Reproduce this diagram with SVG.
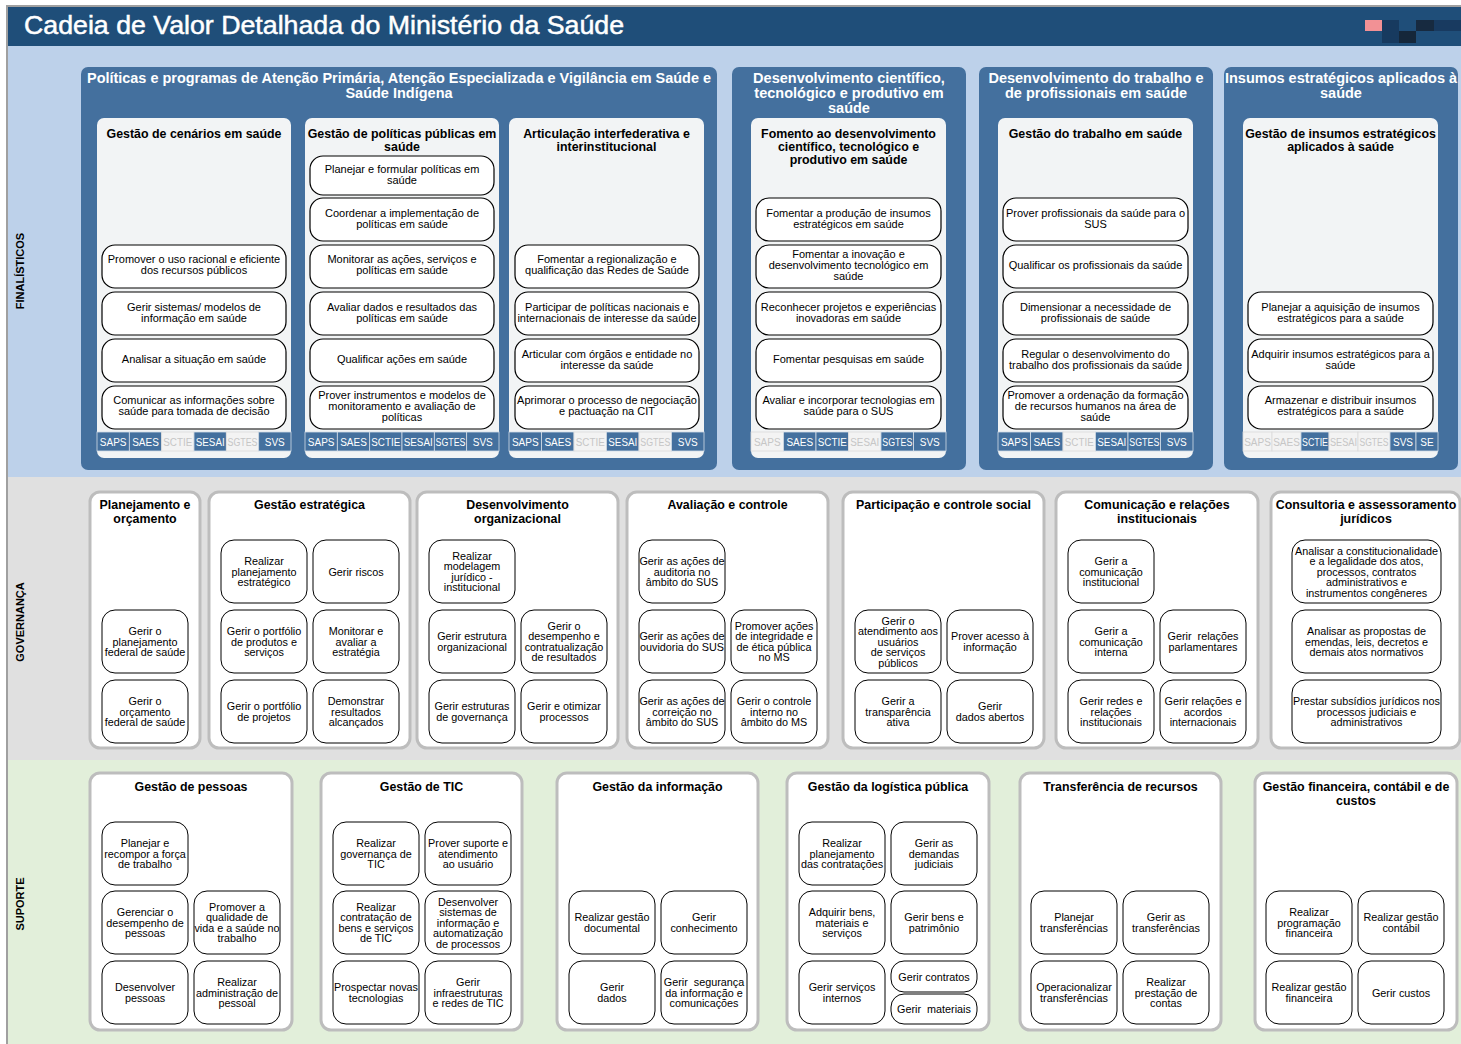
<svg xmlns="http://www.w3.org/2000/svg" width="1461" height="1044" viewBox="0 0 1461 1044">
<style>
text{font-family:"Liberation Sans",Arial,sans-serif}
.outer{fill:#44709E}
.inner{fill:#F2F4F5}
.fp{fill:#fff;stroke:#000;stroke-width:1.2}
.grp{fill:#fff;stroke:#BDBDBD;stroke-width:3}
.gp{fill:#fff;stroke:#000;stroke-width:1}
.o{font-size:14.5px;font-weight:bold;fill:#fff;text-anchor:middle}
.h{font-size:12.4px;font-weight:bold;fill:#000;text-anchor:middle}
.p{font-size:11px;fill:#000;text-anchor:middle}
.q{font-size:10.8px;fill:#000;text-anchor:middle}
.ton{fill:#44709E;stroke:#D3DCE6;stroke-width:0.8}
.toff{fill:#F3F3F3;stroke:#DADADA;stroke-width:0.8}
.tt{font-size:10px;text-anchor:middle}
.tw{fill:#fff}
.tg{fill:#C6C6C6}
.side{font-size:11px;font-weight:bold;fill:#000;text-anchor:middle}
</style>
<rect x="0" y="0" width="1461" height="1044" fill="#fff"/>
<g id="backgrounds">
<rect x="8" y="46" width="1453" height="431" fill="#BDD1EA"/>
<rect x="8" y="477" width="1453" height="283" fill="#E0E0E0"/>
<rect x="8" y="760" width="1453" height="284" fill="#E2EFDA"/>
<rect x="6" y="5" width="1455" height="2" fill="#A0A0A0"/>
<rect x="6" y="5" width="2" height="1039" fill="#A0A0A0"/>
</g>
<g id="title">
<rect x="8" y="7" width="1453" height="39" fill="#1F4E79"/>
<text x="24" y="34" font-size="26.5" fill="#fff" stroke="#fff" stroke-width="0.5" textLength="600" lengthAdjust="spacingAndGlyphs">Cadeia de Valor Detalhada do Ministério da Saúde</text>
<rect x="1365" y="20" width="17" height="11" fill="#F29195"/>
<rect x="1382" y="20" width="17" height="23" fill="#173A5F"/>
<rect x="1416" y="20" width="18" height="11" fill="#172A40"/>
<rect x="1434" y="20" width="27" height="11" fill="#183A60"/>
<rect x="1399" y="31" width="17" height="12" fill="#15273A"/>
</g>
<g id="side-labels">
<text class="side" transform="translate(24,271) rotate(-90)">FINALÍSTICOS</text>
<text class="side" transform="translate(24,622) rotate(-90)">GOVERNANÇA</text>
<text class="side" transform="translate(24,904) rotate(-90)">SUPORTE</text>
</g>
<g id="connectors"/>

<!-- FINALISTICOS -->
<g id="fin-politicas">
<rect class="outer" x="81" y="67" width="636" height="403" rx="7"/>
<text class="o" x="399" y="83" textLength="624" lengthAdjust="spacingAndGlyphs">Políticas e programas de Atenção Primária, Atenção Especializada e Vigilância em Saúde e</text>
<text class="o" x="399" y="98">Saúde Indígena</text>
</g>
<g id="fin-desenv-cient">
<rect class="outer" x="732" y="67" width="234" height="403" rx="7"/>
<text class="o"><tspan x="849" y="83">Desenvolvimento científico,</tspan><tspan x="849" y="98">tecnológico e produtivo em</tspan><tspan x="849" y="113">saúde</tspan></text>
</g>
<g id="fin-desenv-trab">
<rect class="outer" x="979" y="67" width="234" height="403" rx="7"/>
<text class="o"><tspan x="1096" y="83">Desenvolvimento do trabalho e</tspan><tspan x="1096" y="98">de profissionais em saúde</tspan></text>
</g>
<g id="fin-insumos">
<rect class="outer" x="1224" y="67" width="234" height="403" rx="7"/>
<text class="o"><tspan x="1341" y="83">Insumos estratégicos aplicados à</tspan><tspan x="1341" y="98">saúde</tspan></text>
</g>

<g id="gestao-cenarios">
<rect class="inner" x="97" y="118" width="194" height="340" rx="7"/>
<text class="h" x="194" y="137.5">Gestão de cenários em saúde</text>
<rect class="fp" x="102" y="245" width="184" height="43" rx="13"/>
<text class="p"><tspan x="194" y="263">Promover o uso racional e eficiente</tspan><tspan x="194" y="274">dos recursos públicos</tspan></text>
<rect class="fp" x="102" y="292" width="184" height="43" rx="13"/>
<text class="p"><tspan x="194" y="311">Gerir sistemas/ modelos de</tspan><tspan x="194" y="322">informação em saúde</tspan></text>
<rect class="fp" x="102" y="339" width="184" height="43" rx="13"/>
<text class="p" x="194" y="363">Analisar a situação em saúde</text>
<rect class="fp" x="102" y="386" width="184" height="43" rx="13"/>
<text class="p"><tspan x="194" y="404">Comunicar as informações sobre</tspan><tspan x="194" y="415">saúde para tomada de decisão</tspan></text>
<rect class="ton" x="97" y="432" width="32.33" height="19"/><rect class="ton" x="129.33" y="432" width="32.33" height="19"/><rect class="toff" x="161.67" y="432" width="32.33" height="19"/><rect class="ton" x="194" y="432" width="32.33" height="19"/><rect class="toff" x="226.33" y="432" width="32.33" height="19"/><rect class="ton" x="258.67" y="432" width="32.33" height="19"/>
<text class="tt tw" x="113.2" y="445.5">SAPS</text><text class="tt tw" x="145.5" y="445.5">SAES</text><text class="tt tg" x="177.8" y="445.5" textLength="29" lengthAdjust="spacingAndGlyphs">SCTIE</text><text class="tt tw" x="210.2" y="445.5" textLength="29" lengthAdjust="spacingAndGlyphs">SESAI</text><text class="tt tg" x="242.5" y="445.5" textLength="30" lengthAdjust="spacingAndGlyphs">SGTES</text><text class="tt tw" x="274.8" y="445.5">SVS</text>
</g>

<g id="gestao-politicas">
<rect class="inner" x="305" y="118" width="194" height="340" rx="7"/>
<text class="h"><tspan x="402" y="137.5">Gestão de políticas públicas em</tspan><tspan x="402" y="150.5">saúde</tspan></text>
<rect class="fp" x="310" y="156" width="184" height="39" rx="13"/>
<text class="p"><tspan x="402" y="173">Planejar e formular políticas em</tspan><tspan x="402" y="184">saúde</tspan></text>
<rect class="fp" x="310" y="198" width="184" height="43" rx="13"/>
<text class="p"><tspan x="402" y="217">Coordenar a implementação de</tspan><tspan x="402" y="228">políticas em saúde</tspan></text>
<rect class="fp" x="310" y="245" width="184" height="43" rx="13"/>
<text class="p"><tspan x="402" y="263">Monitorar as ações, serviços e</tspan><tspan x="402" y="274">políticas em saúde</tspan></text>
<rect class="fp" x="310" y="292" width="184" height="43" rx="13"/>
<text class="p"><tspan x="402" y="311">Avaliar dados e resultados das</tspan><tspan x="402" y="322">políticas em saúde</tspan></text>
<rect class="fp" x="310" y="339" width="184" height="43" rx="13"/>
<text class="p" x="402" y="363">Qualificar ações em saúde</text>
<rect class="fp" x="310" y="386" width="184" height="43" rx="13"/>
<text class="p"><tspan x="402" y="399">Prover instrumentos e modelos de</tspan><tspan x="402" y="410">monitoramento e avaliação de</tspan><tspan x="402" y="421">políticas</tspan></text>
<rect class="ton" x="305" y="432" width="32.33" height="19"/><rect class="ton" x="337.33" y="432" width="32.33" height="19"/><rect class="ton" x="369.67" y="432" width="32.33" height="19"/><rect class="ton" x="402" y="432" width="32.33" height="19"/><rect class="ton" x="434.33" y="432" width="32.33" height="19"/><rect class="ton" x="466.67" y="432" width="32.33" height="19"/>
<text class="tt tw" x="321.2" y="445.5">SAPS</text><text class="tt tw" x="353.5" y="445.5">SAES</text><text class="tt tw" x="385.8" y="445.5" textLength="29" lengthAdjust="spacingAndGlyphs">SCTIE</text><text class="tt tw" x="418.2" y="445.5" textLength="29" lengthAdjust="spacingAndGlyphs">SESAI</text><text class="tt tw" x="450.5" y="445.5" textLength="30" lengthAdjust="spacingAndGlyphs">SGTES</text><text class="tt tw" x="482.8" y="445.5">SVS</text>
</g>

<g id="articulacao">
<rect class="inner" x="509" y="118" width="195" height="340" rx="7"/>
<text class="h"><tspan x="606.5" y="137.5">Articulação interfederativa e</tspan><tspan x="606.5" y="150.5">interinstitucional</tspan></text>
<rect class="fp" x="515" y="245" width="184" height="43" rx="13"/>
<text class="p"><tspan x="607" y="263">Fomentar a regionalização e</tspan><tspan x="607" y="274">qualificação das Redes de Saúde</tspan></text>
<rect class="fp" x="515" y="292" width="184" height="43" rx="13"/>
<text class="p"><tspan x="607" y="311">Participar de políticas nacionais e</tspan><tspan x="607" y="322">internacionais de interesse da saúde</tspan></text>
<rect class="fp" x="515" y="339" width="184" height="43" rx="13"/>
<text class="p"><tspan x="607" y="357.5">Articular com órgãos e entidade no</tspan><tspan x="607" y="368.5">interesse da saúde</tspan></text>
<rect class="fp" x="515" y="386" width="184" height="43" rx="13"/>
<text class="p"><tspan x="607" y="404">Aprimorar o processo de negociação</tspan><tspan x="607" y="415">e pactuação na CIT</tspan></text>
<rect class="ton" x="509" y="432" width="32.5" height="19"/><rect class="ton" x="541.5" y="432" width="32.5" height="19"/><rect class="toff" x="574" y="432" width="32.5" height="19"/><rect class="ton" x="606.5" y="432" width="32.5" height="19"/><rect class="toff" x="639" y="432" width="32.5" height="19"/><rect class="ton" x="671.5" y="432" width="32.5" height="19"/>
<text class="tt tw" x="525.3" y="445.5">SAPS</text><text class="tt tw" x="557.8" y="445.5">SAES</text><text class="tt tg" x="590.3" y="445.5" textLength="29" lengthAdjust="spacingAndGlyphs">SCTIE</text><text class="tt tw" x="622.8" y="445.5" textLength="29" lengthAdjust="spacingAndGlyphs">SESAI</text><text class="tt tg" x="655.3" y="445.5" textLength="30" lengthAdjust="spacingAndGlyphs">SGTES</text><text class="tt tw" x="687.8" y="445.5">SVS</text>
</g>

<g id="fomento">
<rect class="inner" x="751" y="118" width="195" height="340" rx="7"/>
<text class="h"><tspan x="848.5" y="137.5">Fomento ao desenvolvimento</tspan><tspan x="848.5" y="150.5">científico, tecnológico e</tspan><tspan x="848.5" y="163.5">produtivo em saúde</tspan></text>
<rect class="fp" x="756" y="198" width="185" height="43" rx="13"/>
<text class="p"><tspan x="848.5" y="217">Fomentar a produção de insumos</tspan><tspan x="848.5" y="228">estratégicos em saúde</tspan></text>
<rect class="fp" x="756" y="245" width="185" height="43" rx="13"/>
<text class="p"><tspan x="848.5" y="258">Fomentar a inovação e</tspan><tspan x="848.5" y="269">desenvolvimento tecnológico em</tspan><tspan x="848.5" y="280">saúde</tspan></text>
<rect class="fp" x="756" y="292" width="185" height="43" rx="13"/>
<text class="p"><tspan x="848.5" y="311">Reconhecer projetos e experiências</tspan><tspan x="848.5" y="322">inovadoras em saúde</tspan></text>
<rect class="fp" x="756" y="339" width="185" height="43" rx="13"/>
<text class="p" x="848.5" y="363">Fomentar pesquisas em saúde</text>
<rect class="fp" x="756" y="386" width="185" height="43" rx="13"/>
<text class="p"><tspan x="848.5" y="404">Avaliar e incorporar tecnologias em</tspan><tspan x="848.5" y="415">saúde para o SUS</tspan></text>
<rect class="toff" x="751" y="432" width="32.5" height="19"/><rect class="ton" x="783.5" y="432" width="32.5" height="19"/><rect class="ton" x="816" y="432" width="32.5" height="19"/><rect class="toff" x="848.5" y="432" width="32.5" height="19"/><rect class="ton" x="881" y="432" width="32.5" height="19"/><rect class="ton" x="913.5" y="432" width="32.5" height="19"/>
<text class="tt tg" x="767.3" y="445.5">SAPS</text><text class="tt tw" x="799.8" y="445.5">SAES</text><text class="tt tw" x="832.3" y="445.5" textLength="29" lengthAdjust="spacingAndGlyphs">SCTIE</text><text class="tt tg" x="864.8" y="445.5" textLength="29" lengthAdjust="spacingAndGlyphs">SESAI</text><text class="tt tw" x="897.3" y="445.5" textLength="30" lengthAdjust="spacingAndGlyphs">SGTES</text><text class="tt tw" x="929.8" y="445.5">SVS</text>
</g>

<g id="gestao-trabalho">
<rect class="inner" x="998" y="118" width="195" height="340" rx="7"/>
<text class="h" x="1095.5" y="137.5">Gestão do trabalho em saúde</text>
<rect class="fp" x="1003" y="198" width="185" height="43" rx="13"/>
<text class="p"><tspan x="1095.5" y="217">Prover profissionais da saúde para o</tspan><tspan x="1095.5" y="228">SUS</tspan></text>
<rect class="fp" x="1003" y="245" width="185" height="43" rx="13"/>
<text class="p" x="1095.5" y="269">Qualificar os profissionais da saúde</text>
<rect class="fp" x="1003" y="292" width="185" height="43" rx="13"/>
<text class="p"><tspan x="1095.5" y="311">Dimensionar a necessidade de</tspan><tspan x="1095.5" y="322">profissionais de saúde</tspan></text>
<rect class="fp" x="1003" y="339" width="185" height="43" rx="13"/>
<text class="p"><tspan x="1095.5" y="357.5">Regular o desenvolvimento do</tspan><tspan x="1095.5" y="368.5">trabalho dos profissionais da saúde</tspan></text>
<rect class="fp" x="1003" y="386" width="185" height="43" rx="13"/>
<text class="p"><tspan x="1095.5" y="399">Promover a ordenação da formação</tspan><tspan x="1095.5" y="410">de recursos humanos na área de</tspan><tspan x="1095.5" y="421">saúde</tspan></text>
<rect class="ton" x="998" y="432" width="32.5" height="19"/><rect class="ton" x="1030.5" y="432" width="32.5" height="19"/><rect class="toff" x="1063" y="432" width="32.5" height="19"/><rect class="ton" x="1095.5" y="432" width="32.5" height="19"/><rect class="ton" x="1128" y="432" width="32.5" height="19"/><rect class="ton" x="1160.5" y="432" width="32.5" height="19"/>
<text class="tt tw" x="1014.3" y="445.5">SAPS</text><text class="tt tw" x="1046.8" y="445.5">SAES</text><text class="tt tg" x="1079.3" y="445.5" textLength="29" lengthAdjust="spacingAndGlyphs">SCTIE</text><text class="tt tw" x="1111.8" y="445.5" textLength="29" lengthAdjust="spacingAndGlyphs">SESAI</text><text class="tt tw" x="1144.3" y="445.5" textLength="30" lengthAdjust="spacingAndGlyphs">SGTES</text><text class="tt tw" x="1176.8" y="445.5">SVS</text>
</g>

<g id="gestao-insumos">
<rect class="inner" x="1243" y="118" width="195" height="340" rx="7"/>
<text class="h"><tspan x="1340.5" y="137.5">Gestão de insumos estratégicos</tspan><tspan x="1340.5" y="150.5">aplicados à saúde</tspan></text>
<rect class="fp" x="1248" y="292" width="185" height="43" rx="13"/>
<text class="p"><tspan x="1340.5" y="311">Planejar a aquisição de insumos</tspan><tspan x="1340.5" y="322">estratégicos para a saúde</tspan></text>
<rect class="fp" x="1248" y="339" width="185" height="43" rx="13"/>
<text class="p"><tspan x="1340.5" y="357.5">Adquirir insumos estratégicos para a</tspan><tspan x="1340.5" y="368.5">saúde</tspan></text>
<rect class="fp" x="1248" y="386" width="185" height="43" rx="13"/>
<text class="p"><tspan x="1340.5" y="404">Armazenar e distribuir insumos</tspan><tspan x="1340.5" y="415">estratégicos para a saúde</tspan></text>
<rect class="toff" x="1243" y="432" width="29" height="19"/><rect class="toff" x="1272" y="432" width="29" height="19"/><rect class="ton" x="1301" y="432" width="28" height="19"/><rect class="toff" x="1329" y="432" width="29" height="19"/><rect class="toff" x="1358" y="432" width="32" height="19"/><rect class="ton" x="1390" y="432" width="26" height="19"/><rect class="ton" x="1416" y="432" width="22" height="19"/>
<text class="tt tg" x="1257.5" y="445.5">SAPS</text><text class="tt tg" x="1286.5" y="445.5">SAES</text><text class="tt tw" x="1315" y="445.5" textLength="26" lengthAdjust="spacingAndGlyphs">SCTIE</text><text class="tt tg" x="1343.5" y="445.5" textLength="27" lengthAdjust="spacingAndGlyphs">SESAI</text><text class="tt tg" x="1374" y="445.5" textLength="29" lengthAdjust="spacingAndGlyphs">SGTES</text><text class="tt tw" x="1403" y="445.5">SVS</text><text class="tt tw" x="1427" y="445.5">SE</text>
</g>

<!-- GOVERNANCA -->
<g id="planejamento-orcamento">
<rect class="grp" x="90" y="492" width="110" height="256" rx="10"/>
<text class="h"><tspan x="145" y="508.5">Planejamento e</tspan><tspan x="145" y="522.5">orçamento</tspan></text>
<rect class="gp" x="102" y="610" width="86" height="63" rx="13"/>
<text class="q"><tspan x="145" y="635">Gerir o</tspan><tspan x="145" y="645.5">planejamento</tspan><tspan x="145" y="656">federal de saúde</tspan></text>
<rect class="gp" x="102" y="680" width="86" height="63" rx="13"/>
<text class="q"><tspan x="145" y="705">Gerir o</tspan><tspan x="145" y="715.5">orçamento</tspan><tspan x="145" y="726">federal de saúde</tspan></text>
</g>

<g id="gestao-estrategica">
<rect class="grp" x="209" y="492" width="201" height="256" rx="10"/>
<text class="h" x="309.5" y="508.5">Gestão estratégica</text>
<rect class="gp" x="221" y="540" width="86" height="63" rx="13"/>
<text class="q"><tspan x="264" y="565">Realizar</tspan><tspan x="264" y="575.5">planejamento</tspan><tspan x="264" y="586">estratégico</tspan></text>
<rect class="gp" x="313" y="540" width="86" height="63" rx="13"/>
<text class="q" x="356" y="575.5">Gerir riscos</text>
<rect class="gp" x="221" y="610" width="86" height="63" rx="13"/>
<text class="q"><tspan x="264" y="635">Gerir o portfólio</tspan><tspan x="264" y="645.5">de produtos e</tspan><tspan x="264" y="656">serviços</tspan></text>
<rect class="gp" x="313" y="610" width="86" height="63" rx="13"/>
<text class="q"><tspan x="356" y="635">Monitorar e</tspan><tspan x="356" y="645.5">avaliar a</tspan><tspan x="356" y="656">estratégia</tspan></text>
<rect class="gp" x="221" y="680" width="86" height="63" rx="13"/>
<text class="q"><tspan x="264" y="710">Gerir o portfólio</tspan><tspan x="264" y="720.5">de projetos</tspan></text>
<rect class="gp" x="313" y="680" width="86" height="63" rx="13"/>
<text class="q"><tspan x="356" y="705">Demonstrar</tspan><tspan x="356" y="715.5">resultados</tspan><tspan x="356" y="726">alcançados</tspan></text>
</g>

<g id="desenvolvimento-organizacional">
<rect class="grp" x="417" y="492" width="201" height="256" rx="10"/>
<text class="h"><tspan x="517.5" y="508.5">Desenvolvimento</tspan><tspan x="517.5" y="522.5">organizacional</tspan></text>
<rect class="gp" x="429" y="540" width="86" height="63" rx="13"/>
<text class="q"><tspan x="472" y="559.5">Realizar</tspan><tspan x="472" y="570">modelagem</tspan><tspan x="472" y="580.5">jurídico -</tspan><tspan x="472" y="591">institucional</tspan></text>
<rect class="gp" x="429" y="610" width="86" height="63" rx="13"/>
<text class="q"><tspan x="472" y="640">Gerir estrutura</tspan><tspan x="472" y="650.5">organizacional</tspan></text>
<rect class="gp" x="521" y="610" width="86" height="63" rx="13"/>
<text class="q"><tspan x="564" y="629.5">Gerir o</tspan><tspan x="564" y="640">desempenho e</tspan><tspan x="564" y="650.5">contratualização</tspan><tspan x="564" y="661">de resultados</tspan></text>
<rect class="gp" x="429" y="680" width="86" height="63" rx="13"/>
<text class="q"><tspan x="472" y="710">Gerir estruturas</tspan><tspan x="472" y="720.5">de governança</tspan></text>
<rect class="gp" x="521" y="680" width="86" height="63" rx="13"/>
<text class="q"><tspan x="564" y="710">Gerir e otimizar</tspan><tspan x="564" y="720.5">processos</tspan></text>
</g>

<g id="avaliacao-controle">
<rect class="grp" x="627" y="492" width="201" height="256" rx="10"/>
<text class="h" x="727.5" y="508.5">Avaliação e controle</text>
<rect class="gp" x="639" y="540" width="86" height="63" rx="13"/>
<text class="q"><tspan x="682" y="565">Gerir as ações de</tspan><tspan x="682" y="575.5">auditoria no</tspan><tspan x="682" y="586">âmbito do SUS</tspan></text>
<rect class="gp" x="639" y="610" width="86" height="63" rx="13"/>
<text class="q"><tspan x="682" y="640">Gerir as ações de</tspan><tspan x="682" y="650.5">ouvidoria do SUS</tspan></text>
<rect class="gp" x="731" y="610" width="86" height="63" rx="13"/>
<text class="q"><tspan x="774" y="629.5">Promover ações</tspan><tspan x="774" y="640">de integridade e</tspan><tspan x="774" y="650.5">de ética pública</tspan><tspan x="774" y="661">no MS</tspan></text>
<rect class="gp" x="639" y="680" width="86" height="63" rx="13"/>
<text class="q"><tspan x="682" y="705">Gerir as ações de</tspan><tspan x="682" y="715.5">correição no</tspan><tspan x="682" y="726">âmbito do SUS</tspan></text>
<rect class="gp" x="731" y="680" width="86" height="63" rx="13"/>
<text class="q"><tspan x="774" y="705">Gerir o controle</tspan><tspan x="774" y="715.5">interno no</tspan><tspan x="774" y="726">âmbito do MS</tspan></text>
</g>

<g id="participacao-controle-social">
<rect class="grp" x="843" y="492" width="201" height="256" rx="10"/>
<text class="h" x="943.5" y="508.5">Participação e controle social</text>
<rect class="gp" x="855" y="610" width="86" height="63" rx="13"/>
<text class="q"><tspan x="898" y="624.5">Gerir o</tspan><tspan x="898" y="635">atendimento aos</tspan><tspan x="898" y="645.5">usuários</tspan><tspan x="898" y="656">de serviços</tspan><tspan x="898" y="666.5">públicos</tspan></text>
<rect class="gp" x="947" y="610" width="86" height="63" rx="13"/>
<text class="q"><tspan x="990" y="640">Prover acesso à</tspan><tspan x="990" y="650.5">informação</tspan></text>
<rect class="gp" x="855" y="680" width="86" height="63" rx="13"/>
<text class="q"><tspan x="898" y="705">Gerir a</tspan><tspan x="898" y="715.5">transparência</tspan><tspan x="898" y="726">ativa</tspan></text>
<rect class="gp" x="947" y="680" width="86" height="63" rx="13"/>
<text class="q"><tspan x="990" y="710">Gerir</tspan><tspan x="990" y="720.5">dados abertos</tspan></text>
</g>

<g id="comunicacao-relacoes">
<rect class="grp" x="1056" y="492" width="202" height="256" rx="10"/>
<text class="h"><tspan x="1157" y="508.5">Comunicação e relações</tspan><tspan x="1157" y="522.5">institucionais</tspan></text>
<rect class="gp" x="1068" y="540" width="86" height="63" rx="13"/>
<text class="q"><tspan x="1111" y="565">Gerir a</tspan><tspan x="1111" y="575.5">comunicação</tspan><tspan x="1111" y="586">institucional</tspan></text>
<rect class="gp" x="1068" y="610" width="86" height="63" rx="13"/>
<text class="q"><tspan x="1111" y="635">Gerir a</tspan><tspan x="1111" y="645.5">comunicação</tspan><tspan x="1111" y="656">interna</tspan></text>
<rect class="gp" x="1160" y="610" width="86" height="63" rx="13"/>
<text class="q"><tspan x="1203" y="640">Gerir&#160; relações</tspan><tspan x="1203" y="650.5">parlamentares</tspan></text>
<rect class="gp" x="1068" y="680" width="86" height="63" rx="13"/>
<text class="q"><tspan x="1111" y="705">Gerir redes e</tspan><tspan x="1111" y="715.5">relações</tspan><tspan x="1111" y="726">institucionais</tspan></text>
<rect class="gp" x="1160" y="680" width="86" height="63" rx="13"/>
<text class="q"><tspan x="1203" y="705">Gerir relações e</tspan><tspan x="1203" y="715.5">acordos</tspan><tspan x="1203" y="726">internacionais</tspan></text>
</g>

<g id="consultoria-juridica">
<rect class="grp" x="1271" y="492" width="189" height="256" rx="10"/>
<text class="h"><tspan x="1366" y="508.5">Consultoria e assessoramento</tspan><tspan x="1366" y="522.5">jurídicos</tspan></text>
<rect class="gp" x="1292" y="540" width="149" height="63" rx="13"/>
<text class="q"><tspan x="1366.5" y="554.5">Analisar a constitucionalidade</tspan><tspan x="1366.5" y="565">e a legalidade dos atos,</tspan><tspan x="1366.5" y="575.5">processos, contratos</tspan><tspan x="1366.5" y="586">administrativos e</tspan><tspan x="1366.5" y="596.5">instrumentos congêneres</tspan></text>
<rect class="gp" x="1292" y="610" width="149" height="63" rx="13"/>
<text class="q"><tspan x="1366.5" y="635">Analisar as propostas de</tspan><tspan x="1366.5" y="645.5">emendas, leis, decretos e</tspan><tspan x="1366.5" y="656">demais atos normativos</tspan></text>
<rect class="gp" x="1292" y="680" width="149" height="63" rx="13"/>
<text class="q"><tspan x="1366.5" y="705">Prestar subsídios jurídicos nos</tspan><tspan x="1366.5" y="715.5">processos judiciais e</tspan><tspan x="1366.5" y="726">administrativos</tspan></text>
</g>

<!-- SUPORTE -->
<g id="gestao-pessoas">
<rect class="grp" x="90" y="773" width="202" height="257" rx="10"/>
<text class="h" x="191" y="790.5">Gestão de pessoas</text>
<rect class="gp" x="102" y="822" width="86" height="63" rx="13"/>
<text class="q"><tspan x="145" y="847">Planejar e</tspan><tspan x="145" y="857.5">recompor a força</tspan><tspan x="145" y="868">de trabalho</tspan></text>
<rect class="gp" x="102" y="891" width="86" height="63" rx="13"/>
<text class="q"><tspan x="145" y="916">Gerenciar o</tspan><tspan x="145" y="926.5">desempenho de</tspan><tspan x="145" y="937">pessoas</tspan></text>
<rect class="gp" x="194" y="891" width="86" height="63" rx="13"/>
<text class="q"><tspan x="237" y="910.5">Promover a</tspan><tspan x="237" y="921">qualidade de</tspan><tspan x="237" y="931.5">vida e a saúde no</tspan><tspan x="237" y="942">trabalho</tspan></text>
<rect class="gp" x="102" y="961" width="86" height="63" rx="13"/>
<text class="q"><tspan x="145" y="991">Desenvolver</tspan><tspan x="145" y="1001.5">pessoas</tspan></text>
<rect class="gp" x="194" y="961" width="86" height="63" rx="13"/>
<text class="q"><tspan x="237" y="986">Realizar</tspan><tspan x="237" y="996.5">administração de</tspan><tspan x="237" y="1007">pessoal</tspan></text>
</g>

<g id="gestao-tic">
<rect class="grp" x="321" y="773" width="201" height="257" rx="10"/>
<text class="h" x="421.5" y="790.5">Gestão de TIC</text>
<rect class="gp" x="333" y="822" width="86" height="63" rx="13"/>
<text class="q"><tspan x="376" y="847">Realizar</tspan><tspan x="376" y="857.5">governança de</tspan><tspan x="376" y="868">TIC</tspan></text>
<rect class="gp" x="425" y="822" width="86" height="63" rx="13"/>
<text class="q"><tspan x="468" y="847">Prover suporte e</tspan><tspan x="468" y="857.5">atendimento</tspan><tspan x="468" y="868">ao usuário</tspan></text>
<rect class="gp" x="333" y="891" width="86" height="63" rx="13"/>
<text class="q"><tspan x="376" y="910.5">Realizar</tspan><tspan x="376" y="921">contratação de</tspan><tspan x="376" y="931.5">bens e serviços</tspan><tspan x="376" y="942">de TIC</tspan></text>
<rect class="gp" x="425" y="891" width="86" height="63" rx="13"/>
<text class="q"><tspan x="468" y="905.5">Desenvolver</tspan><tspan x="468" y="916">sistemas de</tspan><tspan x="468" y="926.5">informação e</tspan><tspan x="468" y="937">automatização</tspan><tspan x="468" y="947.5">de processos</tspan></text>
<rect class="gp" x="333" y="961" width="86" height="63" rx="13"/>
<text class="q"><tspan x="376" y="991">Prospectar novas</tspan><tspan x="376" y="1001.5">tecnologias</tspan></text>
<rect class="gp" x="425" y="961" width="86" height="63" rx="13"/>
<text class="q"><tspan x="468" y="986">Gerir</tspan><tspan x="468" y="996.5">infraestruturas</tspan><tspan x="468" y="1007">e redes de TIC</tspan></text>
</g>

<g id="gestao-informacao">
<rect class="grp" x="557" y="773" width="201" height="257" rx="10"/>
<text class="h" x="657.5" y="790.5">Gestão da informação</text>
<rect class="gp" x="569" y="891" width="86" height="63" rx="13"/>
<text class="q"><tspan x="612" y="921">Realizar gestão</tspan><tspan x="612" y="931.5">documental</tspan></text>
<rect class="gp" x="661" y="891" width="86" height="63" rx="13"/>
<text class="q"><tspan x="704" y="921">Gerir</tspan><tspan x="704" y="931.5">conhecimento</tspan></text>
<rect class="gp" x="569" y="961" width="86" height="63" rx="13"/>
<text class="q"><tspan x="612" y="991">Gerir</tspan><tspan x="612" y="1001.5">dados</tspan></text>
<rect class="gp" x="661" y="961" width="86" height="63" rx="13"/>
<text class="q"><tspan x="704" y="986">Gerir&#160; segurança</tspan><tspan x="704" y="996.5">da informação e</tspan><tspan x="704" y="1007">comunicações</tspan></text>
</g>

<g id="gestao-logistica">
<rect class="grp" x="787" y="773" width="202" height="257" rx="10"/>
<text class="h" x="888" y="790.5">Gestão da logística pública</text>
<rect class="gp" x="799" y="822" width="86" height="63" rx="13"/>
<text class="q"><tspan x="842" y="847">Realizar</tspan><tspan x="842" y="857.5">planejamento</tspan><tspan x="842" y="868">das contratações</tspan></text>
<rect class="gp" x="891" y="822" width="86" height="63" rx="13"/>
<text class="q"><tspan x="934" y="847">Gerir as</tspan><tspan x="934" y="857.5">demandas</tspan><tspan x="934" y="868">judiciais</tspan></text>
<rect class="gp" x="799" y="891" width="86" height="63" rx="13"/>
<text class="q"><tspan x="842" y="916">Adquirir bens,</tspan><tspan x="842" y="926.5">materiais e</tspan><tspan x="842" y="937">serviços</tspan></text>
<rect class="gp" x="891" y="891" width="86" height="63" rx="13"/>
<text class="q"><tspan x="934" y="921">Gerir bens e</tspan><tspan x="934" y="931.5">patrimônio</tspan></text>
<rect class="gp" x="799" y="961" width="86" height="63" rx="13"/>
<text class="q"><tspan x="842" y="991">Gerir serviços</tspan><tspan x="842" y="1001.5">internos</tspan></text>
<rect class="gp" x="891" y="961" width="86" height="31" rx="13"/>
<text class="q" x="934" y="980.5">Gerir contratos</text>
<rect class="gp" x="891" y="994" width="86" height="30" rx="13"/>
<text class="q" x="934" y="1013">Gerir&#160; materiais</text>
</g>

<g id="transferencia-recursos">
<rect class="grp" x="1020" y="773" width="201" height="257" rx="10"/>
<text class="h" x="1120.5" y="790.5">Transferência de recursos</text>
<rect class="gp" x="1031" y="891" width="86" height="63" rx="13"/>
<text class="q"><tspan x="1074" y="921">Planejar</tspan><tspan x="1074" y="931.5">transferências</tspan></text>
<rect class="gp" x="1123" y="891" width="86" height="63" rx="13"/>
<text class="q"><tspan x="1166" y="921">Gerir as</tspan><tspan x="1166" y="931.5">transferências</tspan></text>
<rect class="gp" x="1031" y="961" width="86" height="63" rx="13"/>
<text class="q"><tspan x="1074" y="991">Operacionalizar</tspan><tspan x="1074" y="1001.5">transferências</tspan></text>
<rect class="gp" x="1123" y="961" width="86" height="63" rx="13"/>
<text class="q"><tspan x="1166" y="986">Realizar</tspan><tspan x="1166" y="996.5">prestação de</tspan><tspan x="1166" y="1007">contas</tspan></text>
</g>

<g id="gestao-financeira">
<rect class="grp" x="1255" y="773" width="202" height="257" rx="10"/>
<text class="h"><tspan x="1356" y="790.5">Gestão financeira, contábil e de</tspan><tspan x="1356" y="804.5">custos</tspan></text>
<rect class="gp" x="1266" y="891" width="86" height="63" rx="13"/>
<text class="q"><tspan x="1309" y="916">Realizar</tspan><tspan x="1309" y="926.5">programação</tspan><tspan x="1309" y="937">financeira</tspan></text>
<rect class="gp" x="1358" y="891" width="86" height="63" rx="13"/>
<text class="q"><tspan x="1401" y="921">Realizar gestão</tspan><tspan x="1401" y="931.5">contábil</tspan></text>
<rect class="gp" x="1266" y="961" width="86" height="63" rx="13"/>
<text class="q"><tspan x="1309" y="991">Realizar gestão</tspan><tspan x="1309" y="1001.5">financeira</tspan></text>
<rect class="gp" x="1358" y="961" width="86" height="63" rx="13"/>
<text class="q" x="1401" y="996.5">Gerir custos</text>
</g>
</svg>
